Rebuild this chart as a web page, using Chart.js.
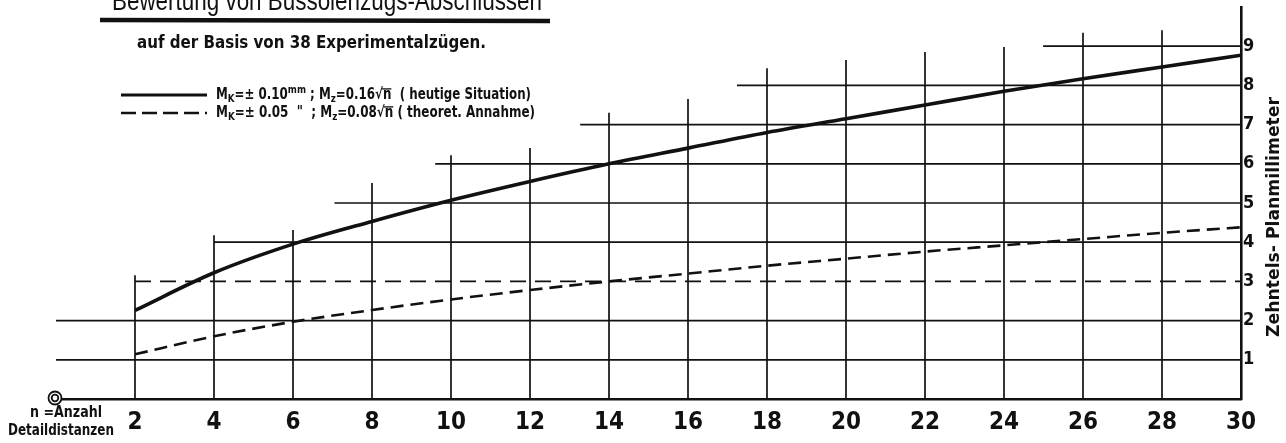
<!DOCTYPE html>
<html>
<head>
<meta charset="utf-8">
<script src="https://cdn.jsdelivr.net/npm/chart.js@4.4.0/dist/chart.umd.min.js"></script>
<style>
  html, body { margin: 0; padding: 0; background: #fff; }
  #wrap { width: 1286px; height: 443px; position: relative; }
</style>
</head>
<body>
<div id="wrap"><canvas id="chart" width="1286" height="443"></canvas></div>
<script>
// --- data ---
const nValues = [2, 4, 6, 8, 10, 12, 14, 16, 18, 20, 22, 24, 26, 28, 30];
const heutigeSituation = [2.26, 3.22, 3.95, 4.53, 5.07, 5.55, 6.0, 6.4, 6.8, 7.15, 7.5, 7.85, 8.17, 8.47, 8.77];
const theoretAnnahme = [1.14, 1.6, 1.97, 2.27, 2.54, 2.78, 3.0, 3.2, 3.4, 3.58, 3.76, 3.92, 4.08, 4.24, 4.38];
const xTickValues = [2, 4, 6, 8, 10, 12, 14, 16, 18, 20, 22, 24, 26, 28, 30];
const yTickValues = [1, 2, 3, 4, 5, 6, 7, 8, 9];
// hand drawn grid: how high each vertical goes (y units), where each horizontal starts (x units)
const verticalTops = [3.16, 4.18, 4.31, 5.51, 6.22, 6.4, 7.3, 7.65, 8.44, 8.65, 8.85, 8.98, 9.34, 9.41];
const horizontalStarts = [0, 0, 2, 4, 7.05, 9.6, 13.27, 17.24, 24.99];
const dashedLevel = 3;

const INK = '#111';
const FONT = "'Liberation Sans Narrow', 'DejaVu Sans Condensed', sans-serif";

function fitText(ctx, text, x, y, w, font) {
    ctx.save();
    ctx.font = font;
    const s = w / ctx.measureText(text).width;
    ctx.translate(x, y);
    ctx.scale(s, 1);
    ctx.textAlign = 'left';
    ctx.textBaseline = 'middle';
    ctx.fillText(text, 0, 0);
    ctx.restore();
}

function drawRuns(ctx, runs, x, y, w, size) {
    ctx.save();
    const fontOf = r => `bold ${(r.sub || r.sup) ? Math.round(size * 0.72) : size}px ${FONT}`;
    let total = 0;
    runs.forEach(r => { ctx.font = fontOf(r); r.w = ctx.measureText(r.t).width; total += r.w; });
    ctx.translate(x, y);
    ctx.scale(w / total, 1);
    ctx.textBaseline = 'middle';
    ctx.textAlign = 'left';
    let cx = 0;
    runs.forEach(r => {
        ctx.font = fontOf(r);
        const dy = r.sub ? size * 0.3 : (r.sup ? -size * 0.3 : 0);
        ctx.fillText(r.t, cx, dy);
        if (r.over) ctx.fillRect(cx - 1, -size * 0.45, r.w + 1, 1.3);
        cx += r.w;
    });
    ctx.restore();
}

// grid segments drawn through the scales
const handGrid = {
    id: 'handGrid',
    beforeDatasetsDraw(chart) {
        const { ctx, scales: { x, y } } = chart;
        ctx.save();
        ctx.strokeStyle = INK;
        ctx.lineWidth = 1.7;
        xTickValues.slice(0, verticalTops.length).forEach((v, i) => {
            ctx.beginPath();
            ctx.moveTo(x.getPixelForValue(v), y.getPixelForValue(0));
            ctx.lineTo(x.getPixelForValue(v), y.getPixelForValue(verticalTops[i]));
            ctx.stroke();
        });
        yTickValues.forEach((v, i) => {
            ctx.setLineDash(v === dashedLevel ? [16, 9] : []);
            ctx.beginPath();
            ctx.moveTo(x.getPixelForValue(horizontalStarts[i]), y.getPixelForValue(v));
            ctx.lineTo(x.getPixelForValue(30), y.getPixelForValue(v));
            ctx.stroke();
        });
        ctx.restore();
    },
    afterDraw(chart) {
        const { ctx, scales: { x, y } } = chart;
        ctx.save();
        ctx.fillStyle = INK;
        ctx.strokeStyle = INK;

        // title (cut off at the top of the sheet) and underline
        ctx.save();
        ctx.font = `28px 'Liberation Sans', Arial, sans-serif`;
        const tw = ctx.measureText('Bewertung von Bussolenzugs-Abschlüssen').width;
        ctx.translate(112, 10);
        ctx.scale(430 / tw, 1);
        ctx.textBaseline = 'alphabetic';
        ctx.fillText('Bewertung von Bussolenzugs-Abschlüssen', 0, 0);
        ctx.restore();
        ctx.lineWidth = 4.5;
        ctx.beginPath();
        ctx.moveTo(100, 20);
        ctx.lineTo(550, 21);
        ctx.stroke();

        fitText(ctx, 'auf der Basis von 38 Experimentalzügen.', 137, 43, 349, `bold 18px ${FONT}`);

        // legend
        ctx.lineWidth = 2.8;
        ctx.beginPath(); ctx.moveTo(121, 95); ctx.lineTo(207, 95); ctx.stroke();
        ctx.lineWidth = 2.4;
        ctx.setLineDash([15, 6]);
        ctx.beginPath(); ctx.moveTo(121, 113); ctx.lineTo(207, 113); ctx.stroke();
        ctx.setLineDash([]);
        drawRuns(ctx, [
            { t: 'M' }, { t: 'K', sub: true }, { t: '=± 0.10' }, { t: 'mm', sup: true },
            { t: ' ; M' }, { t: 'z', sub: true }, { t: '=0.16' }, { t: '√' }, { t: 'n', over: true },
            { t: '  ( heutige Situation)' }
        ], 216, 95, 315, 15);
        drawRuns(ctx, [
            { t: 'M' }, { t: 'K', sub: true }, { t: '=± 0.05  "' },
            { t: '  ; M' }, { t: 'z', sub: true }, { t: '=0.08' }, { t: '√' }, { t: 'n', over: true },
            { t: ' ( theoret. Annahme)' }
        ], 216, 113, 319, 15);

        // right axis title, reading upwards
        ctx.save();
        ctx.translate(1274, 217);
        ctx.rotate(-Math.PI / 2);
        fitText(ctx, 'Zehntels- Planmillimeter', -120, 0, 240, `bold 18px ${FONT}`);
        ctx.restore();

        // origin mark and n label
        const ox = x.getPixelForValue(0) - 1, oy = y.getPixelForValue(0) - 1;
        ctx.lineWidth = 1.8;
        ctx.beginPath(); ctx.arc(ox, oy, 6.5, 0, Math.PI * 2); ctx.fillStyle = '#fff'; ctx.fill(); ctx.stroke();
        ctx.beginPath(); ctx.arc(ox, oy, 3.3, 0, Math.PI * 2); ctx.stroke();
        ctx.fillStyle = INK;
        fitText(ctx, 'n =Anzahl', 30, 413, 72, `bold 16px ${FONT}`);
        fitText(ctx, 'Detaildistanzen', 8, 431, 106, `bold 15px ${FONT}`);
        ctx.restore();
    }
};

const ctx = document.getElementById('chart').getContext('2d');
new Chart(ctx, {
    type: 'line',
    data: {
        datasets: [
            {
                label: 'heutige Situation',
                data: nValues.map((n, i) => ({ x: n, y: heutigeSituation[i] })),
                borderColor: INK, borderWidth: 3.6, pointRadius: 0,
                cubicInterpolationMode: 'monotone', fill: false
            },
            {
                label: 'theoret. Annahme',
                data: nValues.map((n, i) => ({ x: n, y: theoretAnnahme[i] })),
                borderColor: INK, borderWidth: 2.6, pointRadius: 0, borderDash: [13, 7],
                cubicInterpolationMode: 'monotone', fill: false
            }
        ]
    },
    options: {
        responsive: false,
        animation: false,
        devicePixelRatio: 1,
        layout: { padding: { left: 56, top: 7, right: 0, bottom: 0 } },
        plugins: { legend: { display: false }, tooltip: { enabled: false }, title: { display: false } },
        scales: {
            x: {
                type: 'linear', min: 0, max: 30, position: 'bottom',
                grid: { display: false },
                border: { display: true, color: INK, width: 2.6 },
                afterBuildTicks: s => { s.ticks = xTickValues.map(v => ({ value: v })); },
                afterFit: s => { s.height = 44; s.paddingLeft = 0; s.paddingRight = 0; },
                ticks: {
                    autoSkip: false, maxRotation: 0, padding: 1, color: INK,
                    font: { family: FONT, size: 24, weight: 'bold' }
                }
            },
            y: {
                type: 'linear', min: 0, max: 10, position: 'right',
                grid: { display: false },
                border: { display: true, color: INK, width: 2.6 },
                afterBuildTicks: s => { s.ticks = yTickValues.map(v => ({ value: v })); },
                afterFit: s => { s.width = 45; s.paddingTop = 0; s.paddingBottom = 0; },
                ticks: {
                    autoSkip: false, padding: -6, color: INK,
                    font: { family: FONT, size: 18, weight: 'bold' }
                }
            }
        }
    },
    plugins: [handGrid]
});
</script>
</body>
</html>
